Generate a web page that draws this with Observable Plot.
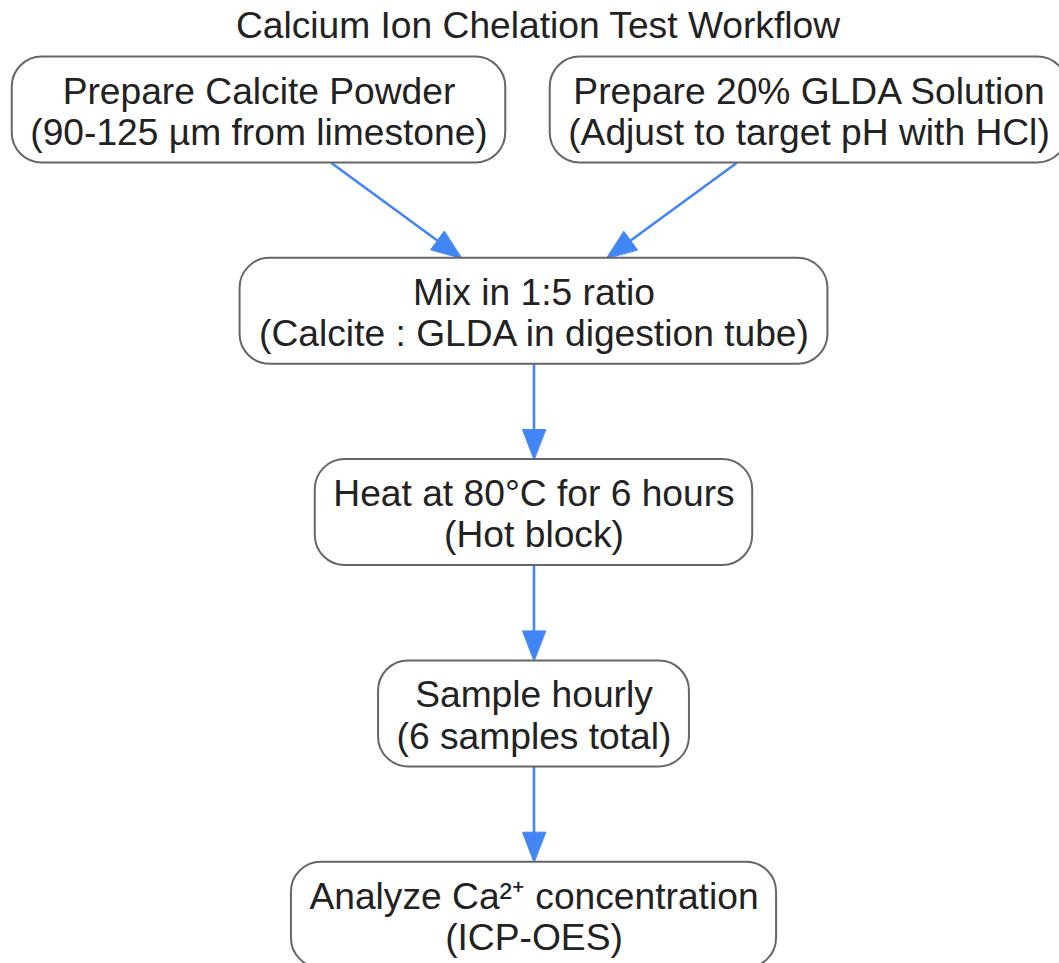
<!DOCTYPE html>
<html><head><meta charset="utf-8">
<script src="https://cdn.jsdelivr.net/npm/d3@7"></script>
<script src="https://cdn.jsdelivr.net/npm/@observablehq/plot@0.6"></script>
<style>body{margin:0;background:#fff}</style>
</head><body><div id="chart"></div>
<script>
// ---- data ----
const chartTitle = "Calcium Ion Chelation Test Workflow";
const nodeIds = ["calcite", "glda", "mix", "heat", "sample", "analyze"];
const nodeLine1 = ["Prepare Calcite Powder", "Prepare 20% GLDA Solution", "Mix in 1:5 ratio",
  "Heat at 80°C for 6 hours", "Sample hourly", "Analyze Ca²⁺ concentration"];
const nodeLine2 = ["(90-125 µm from limestone)", "(Adjust to target pH with HCl)",
  "(Calcite : GLDA in digestion tube)", "(Hot block)", "(6 samples total)", "(ICP-OES)"];
const nodeRank = [0, 0, 1, 2, 3, 4];
const nodeColumn = [-1, 1, 0, 0, 0, 0];
const edgeFrom = ["calcite", "glda", "mix", "heat", "sample"];
const edgeTo = ["mix", "mix", "heat", "sample", "analyze"];

// ---- layout / style ----
const W = 1059, H = 963;
const centerX = 533.5, colStep = 275;
const row0 = 109.5, rowStep = 201.3;
const boxH = 106, pad = 18, radius = 30;
const fontSize = 37.2, font = '"Liberation Sans", Arial, sans-serif';
const edgeColor = "#4285F4", boxStroke = "#666666", textColor = "#222222";
const headLen = 30, headW = 23;

const px = c => centerX + c * colStep;
const py = r => row0 + r * rowStep;
const ic = x => (x - centerX) / colStep;
const ir = y => (y - row0) / rowStep;

const ctx = document.createElement("canvas").getContext("2d");
ctx.font = `${fontSize}px ${font}`;

const nodes = nodeIds.map((id, i) => {
  const w = Math.max(ctx.measureText(nodeLine1[i]).width, ctx.measureText(nodeLine2[i]).width) + 2 * pad;
  const c = nodeColumn[i], r = nodeRank[i];
  return {
    id, c, r,
    label: nodeLine1[i] + "\n" + nodeLine2[i],
    x1: ic(px(c) - w / 2), x2: ic(px(c) + w / 2),
    y1: ir(py(r) - boxH / 2), y2: ir(py(r) + boxH / 2)
  };
});
const byId = new Map(nodes.map(n => [n.id, n]));

const links = [], heads = [];
edgeFrom.forEach((f, i) => {
  const a = byId.get(f), b = byId.get(edgeTo[i]);
  const ax = px(a.c), ay = py(a.r), bx = px(b.c), by = py(b.r);
  const dx = bx - ax, dy = by - ay;
  const t = (boxH / 2) / dy;
  const sx = ax + dx * t, sy = ay + dy * t;
  const tx = bx - dx * t, ty = by - dy * t;
  const L = Math.hypot(dx, dy), ux = dx / L, uy = dy / L;
  const bxp = tx - ux * headLen, byp = ty - uy * headLen;
  links.push({x1: ic(sx), y1: ir(sy), x2: ic(bxp + ux * 2), y2: ir(byp + uy * 2)});
  const pxv = -uy, pyv = ux;
  heads.push({e: i, x: ic(tx), y: ir(ty)});
  heads.push({e: i, x: ic(bxp + pxv * headW / 2), y: ir(byp + pyv * headW / 2)});
  heads.push({e: i, x: ic(bxp - pxv * headW / 2), y: ir(byp - pyv * headW / 2)});
});

const chart = Plot.plot({
  width: W, height: H,
  margin: 0,
  style: {background: "#fff", fontFamily: font},
  x: {domain: [ic(0), ic(W)], range: [0, W], axis: null},
  y: {domain: [ir(0), ir(H)], range: [0, H], axis: null},
  marks: [
    Plot.link(links, {x1: "x1", y1: "y1", x2: "x2", y2: "y2", stroke: edgeColor, strokeWidth: 2.6}),
    Plot.line(heads, {x: "x", y: "y", z: "e", fill: edgeColor, stroke: edgeColor, strokeWidth: 1, curve: "linear-closed"}),
    Plot.rect(nodes, {x1: "x1", x2: "x2", y1: "y1", y2: "y2", rx: radius, ry: radius,
      fill: "#ffffff", stroke: boxStroke, strokeWidth: 2}),
    Plot.text(nodes, {x: "c", y: "r", text: "label", fontSize, lineHeight: 1.108, dy: 1,
      fill: textColor, fontFamily: font}),
    Plot.text([chartTitle], {x: ic(537.5), y: ir(26), text: d => d, fontSize, fill: textColor, fontFamily: font})
  ]
});
document.getElementById("chart").append(chart);
</script>
</body></html>
